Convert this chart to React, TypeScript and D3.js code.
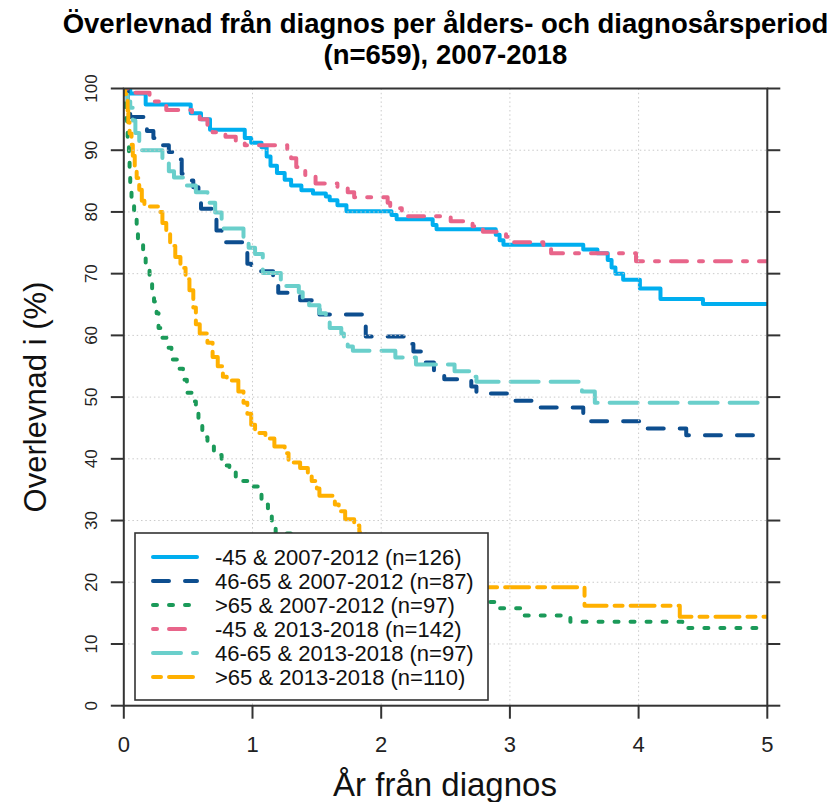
import React from "react";
import * as d3 from "d3";

type Pt = [number, number];

// Kaplan–Meier survival estimates (years since diagnosis, survival %)
const age45_0712: Pt[] = [
  [0, 100], [0.05, 99.2], [0.17, 97.4], [0.52, 96.0], [0.6, 95.0], [0.67, 93.3], [0.94, 92.0],
  [0.99, 91.2], [1.07, 90.5], [1.11, 89.0], [1.14, 87.5], [1.19, 86.3], [1.25, 85.2], [1.3, 84.3],
  [1.38, 83.5], [1.47, 83.0], [1.57, 82.5], [1.6, 81.9], [1.66, 81.1], [1.73, 80.1], [2.08, 79.5],
  [2.12, 78.8], [2.4, 77.9], [2.43, 77.2], [2.89, 76.3], [2.92, 75.4], [2.95, 74.7], [3.57, 73.9],
  [3.68, 73.3], [3.76, 72.2], [3.79, 71.0], [3.82, 70.0], [3.88, 69.0], [4.01, 67.6], [4.17, 65.9],
  [4.5, 65.1], [5, 65.1],
];

const age4665_0712: Pt[] = [
  [0, 100], [0.03, 97.7], [0.05, 95.4], [0.18, 93.1], [0.23, 92.0], [0.3, 90.8], [0.35, 89.7],
  [0.42, 88.5], [0.45, 86.2], [0.49, 85.1], [0.54, 84.0], [0.58, 82.8], [0.6, 80.5], [0.69, 79.3],
  [0.72, 77.0], [0.76, 75.1], [0.93, 73.9], [0.96, 71.6], [0.99, 70.4], [1.16, 68.1], [1.2, 66.9],
  [1.37, 65.7], [1.46, 64.6], [1.52, 63.4], [1.86, 61.7], [1.88, 59.8], [2.22, 58.6], [2.25, 57.4],
  [2.32, 55.6], [2.41, 54.1], [2.49, 52.9], [2.7, 51.7], [2.74, 50.6], [2.985, 49.4], [3.19, 48.3],
  [3.57, 47.2], [3.6, 46.1], [4.05, 44.9], [4.37, 43.8], [5, 43.8],
];

const age65_0712: Pt[] = [
  [0, 100], [0.01, 97.0], [0.02, 95.0], [0.025, 93.0], [0.03, 91.0], [0.04, 88.5], [0.045, 86.5],
  [0.05, 84.5], [0.055, 83.5], [0.06, 81.6], [0.08, 79.5], [0.1, 77.3], [0.11, 75.2], [0.15, 73.6],
  [0.17, 71.4], [0.2, 69.8], [0.22, 67.5], [0.235, 65.5], [0.255, 63.6], [0.27, 61.2], [0.295, 59.6],
  [0.34, 58.0], [0.37, 56.1], [0.42, 54.6], [0.46, 52.8], [0.49, 50.7], [0.53, 49.3], [0.56, 47.5],
  [0.58, 45.6], [0.61, 43.5], [0.65, 42.0], [0.7, 40.6], [0.76, 38.9], [0.82, 37.8], [0.87, 36.4],
  [0.96, 35.5], [1.05, 34.7], [1.07, 32.6], [1.12, 31.0], [1.15, 29.1], [1.18, 27.9], [1.33, 26.8],
  [1.48, 25.7], [1.62, 24.6], [1.8, 23.5], [1.97, 22.2], [2.15, 21.1], [2.32, 19.9], [2.5, 18.8],
  [2.65, 17.7], [2.8, 16.8], [2.9, 15.8], [3.08, 14.6], [3.47, 13.6], [4.34, 12.6], [5, 12.6],
];

const age45_1318: Pt[] = [
  [0, 100], [0.08, 99.3], [0.2, 97.9], [0.33, 96.5], [0.53, 96.0], [0.59, 95.0], [0.65, 93.6],
  [0.69, 92.9], [0.79, 92.2], [0.87, 91.5], [0.94, 90.8], [1.27, 90.1], [1.3, 88.7], [1.34, 87.3],
  [1.41, 86.0], [1.49, 84.6], [1.66, 84.0], [1.74, 83.2], [1.79, 82.4], [2.05, 81.5], [2.07, 80.6],
  [2.16, 80.0], [2.19, 79.3], [2.54, 78.5], [2.71, 77.7], [2.79, 76.8], [2.97, 76.0], [3.03, 75.1],
  [3.26, 74.2], [3.32, 73.3], [3.98, 72.0], [5, 72.0],
];

const age4665_1318: Pt[] = [
  [0, 100], [0.01, 99.0], [0.03, 97.9], [0.05, 96.9], [0.07, 94.8], [0.09, 92.8], [0.12, 90.0],
  [0.3, 88.6], [0.35, 86.6], [0.39, 85.6], [0.47, 84.3], [0.56, 83.2], [0.65, 81.5], [0.71, 79.9],
  [0.76, 77.3], [0.93, 75.2], [0.97, 74.2], [1.02, 73.2], [1.08, 70.1], [1.22, 68.0], [1.36, 67.0],
  [1.39, 66.0], [1.44, 64.9], [1.52, 63.6], [1.57, 62.5], [1.6, 61.2], [1.69, 60.3], [1.71, 59.3],
  [1.74, 58.2], [1.78, 57.5], [2.11, 56.4], [2.27, 55.3], [2.57, 54.2], [2.72, 53.3], [2.74, 52.5],
  [3.56, 50.9], [3.66, 49.1], [5, 49.1],
];

const age65_1318: Pt[] = [
  [0, 100], [0.01, 99.1], [0.02, 98.2], [0.03, 96.4], [0.035, 94.5], [0.045, 92.7], [0.06, 90.9],
  [0.07, 89.1], [0.085, 87.3], [0.1, 85.5], [0.12, 83.6], [0.14, 81.8], [0.16, 80.9], [0.27, 80.0],
  [0.3, 78.2], [0.33, 76.4], [0.36, 74.5], [0.4, 72.7], [0.44, 70.9], [0.48, 69.1], [0.51, 67.3],
  [0.54, 64.5], [0.56, 61.8], [0.59, 60.3], [0.65, 58.8], [0.69, 56.5], [0.73, 55.0], [0.77, 53.3],
  [0.8, 52.7], [0.89, 50.9], [0.93, 49.1], [0.96, 47.3], [0.99, 45.5], [1.02, 44.2], [1.1, 43.3],
  [1.17, 42.0], [1.25, 40.9], [1.28, 39.4], [1.37, 38.5], [1.43, 37.3], [1.46, 36.4], [1.5, 35.2],
  [1.52, 34.0], [1.64, 32.6], [1.67, 31.5], [1.72, 30.2], [1.79, 29.2], [1.83, 28.1], [1.88, 27.3],
  [2.0, 26.4], [2.12, 25.5], [2.25, 24.5], [2.37, 23.6], [2.48, 22.7], [2.58, 21.8], [2.66, 20.9],
  [2.74, 20.0], [2.8, 19.2], [3.58, 16.2], [4.32, 14.4], [5, 14.4],
];

const seriesData: Pt[][] = [age45_0712, age4665_0712, age65_0712, age45_1318, age4665_1318, age65_1318];
const seriesLabels = [
  "-45 & 2007-2012 (n=126)",
  "46-65 & 2007-2012 (n=87)",
  ">65 & 2007-2012 (n=97)",
  "-45 & 2013-2018 (n=142)",
  "46-65 & 2013-2018 (n=97)",
  ">65 & 2013-2018 (n=110)",
];
const seriesColors = ["#00AEEF", "#0D4E8F", "#1B9A59", "#E8658A", "#6ACFCB", "#FFB000"];
// R line types 1..6 scaled by a line width of 4
const seriesDash = ["", "16 16", "4 12", "4 12 16 12", "28 12", "8 8 24 8"];

const xTicks = [0, 1, 2, 3, 4, 5];
const yTicks = [0, 10, 20, 30, 40, 50, 60, 70, 80, 90, 100];
const gridX = [1, 2, 3, 4];
const gridY = [10, 20, 30, 40, 50, 60, 70, 80, 90];

const titleLines = ["Överlevnad från diagnos per ålders- och diagnosårsperiod", "(n=659), 2007-2018"];
const xTitle = "År från diagnos";
const yTitle = "Overlevnad i (%)";

const W = 827;
const H = 802;
const FONT = "'Liberation Sans', Arial, Helvetica, sans-serif";

export default function App() {
  const x = d3.scaleLinear().domain([0, 5]).range([123.8, 767.3]);
  const y = d3.scaleLinear().domain([0, 100]).range([705.7, 88.5]);
  const [x0, x1] = x.range();
  const [y0, y1] = y.range();

  const line = d3
    .line<Pt>()
    .x((d) => x(d[0]))
    .y((d) => y(d[1]))
    .curve(d3.curveStepAfter);

  const legend = { x: 135, y: 533, w: 353, h: 167 };
  const rowY = (i: number) => 557 + i * 24;

  return (
    <svg
      width={W}
      height={H}
      viewBox={`0 0 ${W} ${H}`}
      style={{ position: "absolute", left: 0, top: 0, background: "#fff", fontFamily: FONT }}
    >
      <defs>
        <clipPath id="plot-clip">
          <rect x={x0} y={y1} width={x1 - x0} height={y0 - y1} />
        </clipPath>
      </defs>
      <rect x={0} y={0} width={W} height={H} fill="#fff" />

      {/* title */}
      <text x={445.5} y={33} textAnchor="middle" fontSize={27.5} fontWeight="bold" fill="#000">
        {titleLines[0]}
      </text>
      <text x={445.5} y={64} textAnchor="middle" fontSize={27.5} fontWeight="bold" fill="#000">
        {titleLines[1]}
      </text>

      {/* survival curves */}
      <g clipPath="url(#plot-clip)">
        {seriesData.map((d, i) => (
          <path
            key={seriesLabels[i]}
            d={line(d) ?? ""}
            fill="none"
            stroke={seriesColors[i]}
            strokeWidth={4}
            strokeDasharray={seriesDash[i] || undefined}
            strokeLinecap="round"
            strokeLinejoin="round"
          />
        ))}
      </g>

      {/* grid */}
      <g stroke="#cacaca" strokeWidth={1} strokeDasharray="1.5 2.8">
        {gridX.map((t) => (
          <line key={`gx${t}`} x1={x(t)} x2={x(t)} y1={y1} y2={y0} />
        ))}
        {gridY.map((v) => (
          <line key={`gy${v}`} x1={x0} x2={x1} y1={y(v)} y2={y(v)} />
        ))}
      </g>

      {/* frame and ticks */}
      <rect x={x0} y={y1} width={x1 - x0} height={y0 - y1} fill="none" stroke="#333" strokeWidth={2} />
      <g stroke="#333" strokeWidth={2}>
        {xTicks.map((t) => (
          <line key={`xt${t}`} x1={x(t)} x2={x(t)} y1={y0} y2={y0 + 13} />
        ))}
        {yTicks.map((v) => (
          <line key={`yl${v}`} x1={x0 - 13} x2={x0} y1={y(v)} y2={y(v)} />
        ))}
        {yTicks.map((v) => (
          <line key={`yr${v}`} x1={x1} x2={x1 + 13} y1={y(v)} y2={y(v)} />
        ))}
      </g>

      {/* tick labels */}
      {xTicks.map((t) => (
        <text key={`xl${t}`} x={x(t)} y={752} textAnchor="middle" fontSize={22} fill="#222">
          {t}
        </text>
      ))}
      {yTicks.map((v) => (
        <text
          key={`ylb${v}`}
          transform={`translate(97,${y(v)}) rotate(-90)`}
          textAnchor="middle"
          fontSize={17}
          fill="#222"
        >
          {v}
        </text>
      ))}

      {/* axis titles */}
      <text x={445} y={796} textAnchor="middle" fontSize={33} fill="#111">
        {xTitle}
      </text>
      <text transform={`translate(46,397) rotate(-90)`} textAnchor="middle" fontSize={31} fill="#111">
        {yTitle}
      </text>

      {/* legend */}
      <rect x={legend.x} y={legend.y} width={legend.w} height={legend.h} fill="#fff" stroke="#333" strokeWidth={1.6} />
      {seriesLabels.map((lab, i) => (
        <g key={`lg${i}`}>
          <line
            x1={153}
            x2={197}
            y1={rowY(i)}
            y2={rowY(i)}
            stroke={seriesColors[i]}
            strokeWidth={4}
            strokeDasharray={seriesDash[i] || undefined}
            strokeLinecap="round"
          />
          <text x={215} y={rowY(i) + 7.5} fontSize={22} fill="#111">
            {lab}
          </text>
        </g>
      ))}
    </svg>
  );
}
